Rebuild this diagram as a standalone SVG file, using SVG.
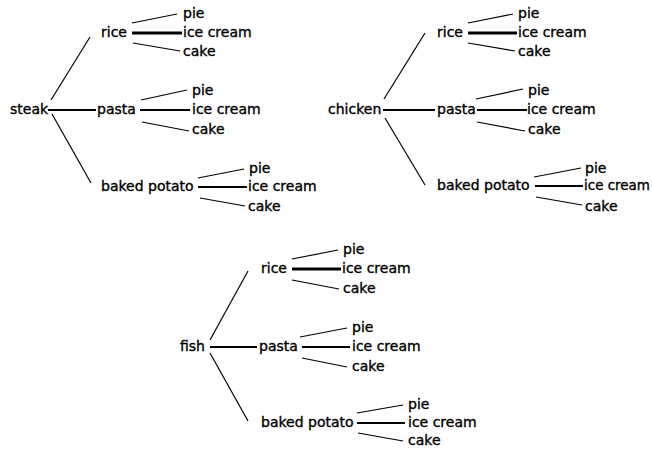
<svg xmlns="http://www.w3.org/2000/svg" width="652" height="451" viewBox="0 0 652 451">
  <style>
    text { font-family: "DejaVu Sans", "Liberation Sans", sans-serif; font-size: 14px; fill: #000; stroke: #000; stroke-width: 0.35; }
    .thin { stroke: #000; stroke-width: 1.2; fill: none; }
    .mid { stroke: #000; stroke-width: 2; fill: none; }
    .thick { stroke: #000; stroke-width: 3; fill: none; }
  </style>
  <rect width="652" height="451" fill="#fff"/>

  <!-- connectors -->
  <g id="connectors">
    <!-- steak tree -->
    <line class="thin" x1="51" y1="100" x2="90" y2="37"/>
    <line class="mid" x1="48" y1="110" x2="96" y2="110"/>
    <line class="thin" x1="52" y1="114" x2="91" y2="183"/>
    <line class="thin" x1="132" y1="23" x2="177" y2="14"/>
    <line class="thick" x1="132" y1="33" x2="182" y2="33"/>
    <line class="thin" x1="133" y1="43" x2="180" y2="51"/>
    <line class="thin" x1="141" y1="100" x2="187" y2="90"/>
    <line class="mid" x1="140" y1="110" x2="190" y2="110"/>
    <line class="thin" x1="142" y1="122" x2="189" y2="131"/>
    <line class="thin" x1="198" y1="178" x2="244" y2="169"/>
    <line class="mid" x1="198" y1="187" x2="247" y2="187"/>
    <line class="thin" x1="200" y1="198" x2="245" y2="206"/>
    <!-- chicken tree -->
    <line class="thin" x1="384" y1="99" x2="425" y2="33"/>
    <line class="mid" x1="383" y1="110" x2="435" y2="110"/>
    <line class="thin" x1="385" y1="118" x2="425" y2="185"/>
    <line class="thin" x1="468" y1="23" x2="513" y2="14"/>
    <line class="thick" x1="468" y1="33" x2="517" y2="33"/>
    <line class="thin" x1="468" y1="43" x2="515" y2="51"/>
    <line class="thin" x1="476" y1="99" x2="523" y2="89"/>
    <line class="mid" x1="477" y1="110" x2="527" y2="110"/>
    <line class="thin" x1="477" y1="122" x2="525" y2="131"/>
    <line class="thin" x1="534" y1="177" x2="581" y2="168"/>
    <line class="mid" x1="535" y1="186" x2="583" y2="186"/>
    <line class="thin" x1="536" y1="197" x2="582" y2="205"/>
    <!-- fish tree -->
    <line class="thin" x1="210" y1="340" x2="248" y2="271"/>
    <line class="mid" x1="210" y1="347" x2="257" y2="347"/>
    <line class="thin" x1="210" y1="353" x2="248" y2="421"/>
    <line class="thin" x1="292" y1="259" x2="338" y2="250"/>
    <line class="thick" x1="292" y1="269" x2="341" y2="269"/>
    <line class="thin" x1="292" y1="280" x2="339" y2="289"/>
    <line class="thin" x1="300" y1="337" x2="347" y2="328"/>
    <line class="mid" x1="302" y1="347" x2="350" y2="347"/>
    <line class="thin" x1="302" y1="358" x2="347" y2="367"/>
    <line class="thin" x1="357" y1="413" x2="403" y2="405"/>
    <line class="mid" x1="357" y1="423" x2="405" y2="423"/>
    <line class="thin" x1="358" y1="433" x2="403" y2="441"/>
  </g>

  <!-- steak tree nodes -->
  <g id="steak"><text x="10" y="114">steak</text></g>
  <g id="steak-rice"><text x="101" y="37">rice</text></g>
  <g id="steak-rice-pie"><text x="183" y="18">pie</text></g>
  <g id="steak-rice-icecream"><text x="183" y="37">ice cream</text></g>
  <g id="steak-rice-cake"><text x="183" y="56">cake</text></g>
  <g id="steak-pasta"><text x="97" y="114">pasta</text></g>
  <g id="steak-pasta-pie"><text x="192" y="95">pie</text></g>
  <g id="steak-pasta-icecream"><text x="192" y="114">ice cream</text></g>
  <g id="steak-pasta-cake"><text x="192" y="134">cake</text></g>
  <g id="steak-potato"><text x="101" y="191">baked potato</text></g>
  <g id="steak-potato-pie"><text x="249" y="173">pie</text></g>
  <g id="steak-potato-icecream"><text x="248" y="191">ice cream</text></g>
  <g id="steak-potato-cake"><text x="248" y="211">cake</text></g>

  <!-- chicken tree nodes -->
  <g id="chicken"><text x="328" y="114">chicken</text></g>
  <g id="chicken-rice"><text x="437" y="37">rice</text></g>
  <g id="chicken-rice-pie"><text x="518" y="18">pie</text></g>
  <g id="chicken-rice-icecream"><text x="518" y="37">ice cream</text></g>
  <g id="chicken-rice-cake"><text x="518" y="56">cake</text></g>
  <g id="chicken-pasta"><text x="437" y="114">pasta</text></g>
  <g id="chicken-pasta-pie"><text x="528" y="95">pie</text></g>
  <g id="chicken-pasta-icecream"><text x="527" y="114">ice cream</text></g>
  <g id="chicken-pasta-cake"><text x="528" y="134">cake</text></g>
  <g id="chicken-potato"><text x="437" y="190">baked potato</text></g>
  <g id="chicken-potato-pie"><text x="585" y="173">pie</text></g>
  <g id="chicken-potato-icecream"><text x="584" y="190" textLength="66" lengthAdjust="spacingAndGlyphs">ice cream</text></g>
  <g id="chicken-potato-cake"><text x="585" y="211">cake</text></g>

  <!-- fish tree nodes -->
  <g id="fish"><text x="180" y="351">fish</text></g>
  <g id="fish-rice"><text x="261" y="273">rice</text></g>
  <g id="fish-rice-pie"><text x="343" y="254">pie</text></g>
  <g id="fish-rice-icecream"><text x="342" y="273">ice cream</text></g>
  <g id="fish-rice-cake"><text x="343" y="293">cake</text></g>
  <g id="fish-pasta"><text x="259" y="351">pasta</text></g>
  <g id="fish-pasta-pie"><text x="352" y="332">pie</text></g>
  <g id="fish-pasta-icecream"><text x="352" y="351">ice cream</text></g>
  <g id="fish-pasta-cake"><text x="352" y="371">cake</text></g>
  <g id="fish-potato"><text x="261" y="427">baked potato</text></g>
  <g id="fish-potato-pie"><text x="408" y="409">pie</text></g>
  <g id="fish-potato-icecream"><text x="408" y="427">ice cream</text></g>
  <g id="fish-potato-cake"><text x="408" y="445">cake</text></g>
</svg>
